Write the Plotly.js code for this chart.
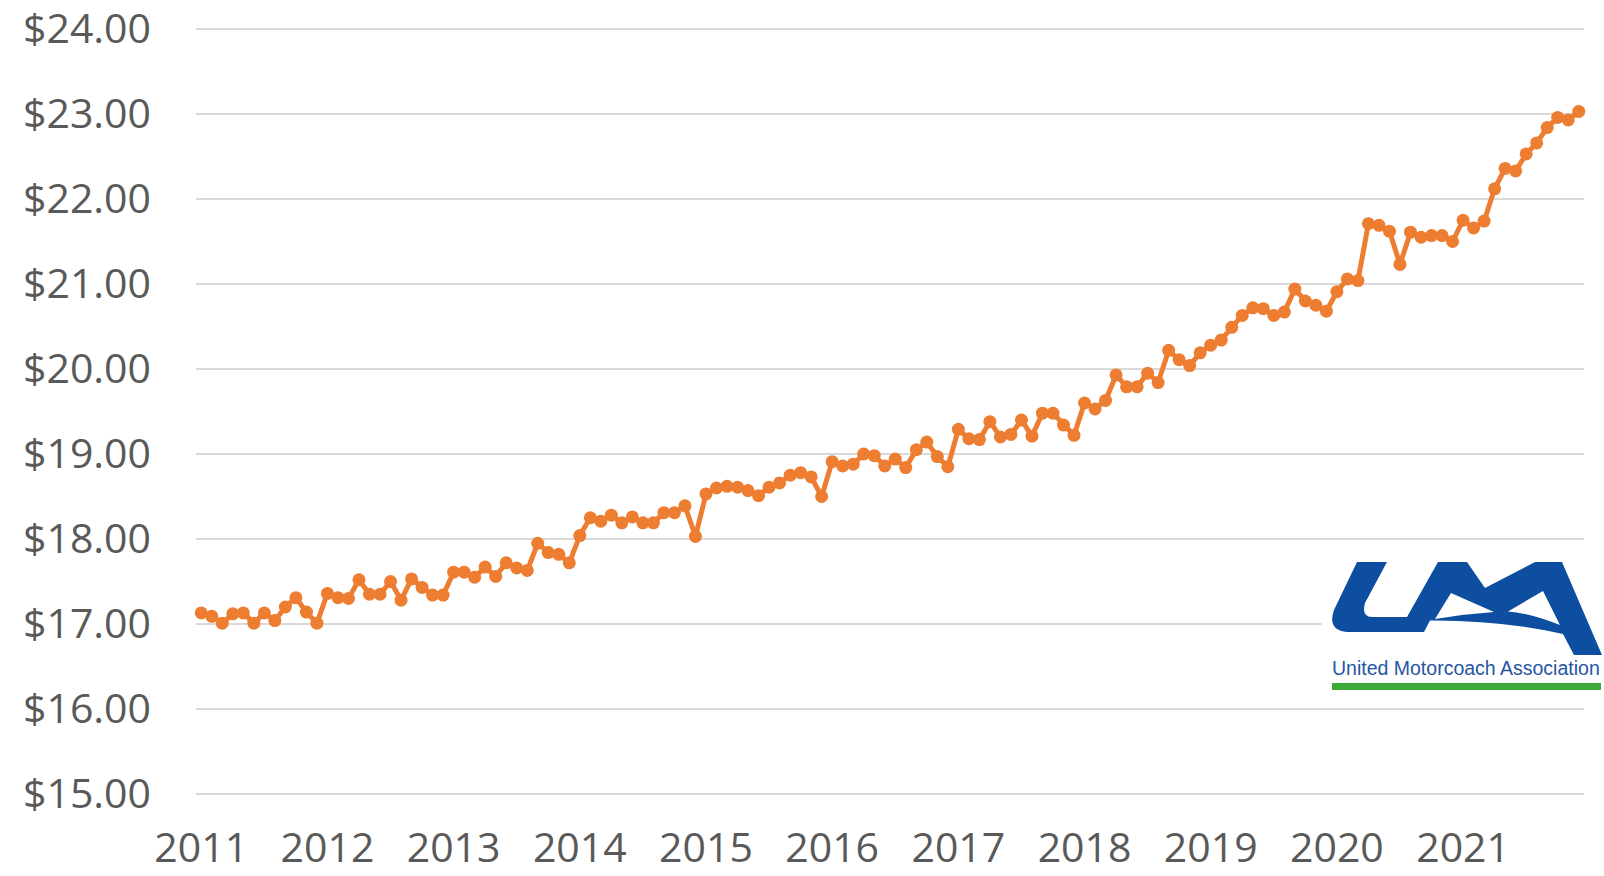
<!DOCTYPE html>
<html>
<head>
<meta charset="utf-8">
<script src="https://cdn.plot.ly/plotly-3.0.1.min.js"></script>
<style>
  html, body { margin: 0; padding: 0; background: #ffffff; }
  #chart { width: 1604px; height: 876px; }
</style>
</head>
<body>
<div id="chart"></div>
<script>
// ---- Data (average hourly wage, monthly, Jan 2011 – Dec 2021) ----
const years = ['2011','2012','2013','2014','2015','2016','2017','2018','2019','2020','2021'];
const y2011 = [17.13, 17.09, 17.01, 17.12, 17.13, 17.01, 17.13, 17.04, 17.20, 17.31, 17.14, 17.01];
const y2012 = [17.36, 17.31, 17.30, 17.52, 17.35, 17.35, 17.50, 17.28, 17.53, 17.43, 17.34, 17.34];
const y2013 = [17.61, 17.61, 17.55, 17.67, 17.56, 17.72, 17.66, 17.63, 17.95, 17.84, 17.82, 17.72];
const y2014 = [18.04, 18.25, 18.21, 18.28, 18.19, 18.26, 18.19, 18.19, 18.31, 18.31, 18.39, 18.03];
const y2015 = [18.53, 18.60, 18.62, 18.61, 18.57, 18.51, 18.61, 18.66, 18.75, 18.78, 18.73, 18.50];
const y2016 = [18.91, 18.86, 18.88, 19.00, 18.98, 18.86, 18.94, 18.84, 19.05, 19.14, 18.97, 18.85];
const y2017 = [19.29, 19.18, 19.17, 19.38, 19.20, 19.23, 19.40, 19.21, 19.48, 19.48, 19.34, 19.22];
const y2018 = [19.60, 19.53, 19.63, 19.93, 19.79, 19.79, 19.95, 19.84, 20.22, 20.11, 20.04, 20.19];
const y2019 = [20.28, 20.34, 20.49, 20.63, 20.72, 20.71, 20.63, 20.67, 20.94, 20.80, 20.75, 20.68];
const y2020 = [20.91, 21.06, 21.04, 21.71, 21.69, 21.62, 21.23, 21.61, 21.55, 21.57, 21.57, 21.50];
const y2021 = [21.75, 21.66, 21.74, 22.12, 22.36, 22.33, 22.53, 22.66, 22.84, 22.96, 22.93, 23.03];
const yTicks = [15, 16, 17, 18, 19, 20, 21, 22, 23, 24];
const logoText = 'United Motorcoach Association';

const wages = [].concat(y2011, y2012, y2013, y2014, y2015, y2016, y2017, y2018, y2019, y2020, y2021);
const idx = wages.map((_, i) => i);

const orange = '#ED7D31';
const trace = {
  x: idx, y: wages, type: 'scatter', mode: 'lines+markers',
  line: { color: orange, width: 5 },
  marker: { color: orange, size: 13 },
  hoverinfo: 'skip', cliponaxis: false
};

// ---- layout geometry (pixels) ----
// plot area is padded 4px beyond the $15 / $24 gridlines so Plotly keeps both edge gridlines
const L = 196, R = 1584, T = 25, B = 798;
const pad = 4 / 85;
const px = x => (x - L) / (R - L);
const py = y => (B - y) / (B - T);
const P = (x, y) => px(x).toFixed(5) + ',' + py(y).toFixed(5);

const blue = '#0D4EA0';
const logoBody = 'M' + P(1357,562) + ' L' + P(1387,562) + ' L' + P(1365,603) +
  ' Q' + P(1361,617) + ' ' + P(1373,617) + ' L' + P(1407,617) + ' L' + P(1438,562) +
  ' L' + P(1467,562) + ' L' + P(1485,588) + ' L' + P(1535,562) + ' L' + P(1562,562) +
  ' L' + P(1602,655) + ' L' + P(1574,655) + ' L' + P(1563,634) +
  ' Q' + P(1500,620) + ' ' + P(1430,620.5) + ' L' + P(1424,632) + ' L' + P(1347,632) +
  ' Q' + P(1327,630) + ' ' + P(1334,610) + ' Z';
const notchM = 'M' + P(1451,593) + ' L' + P(1494,612) + ' Q' + P(1465,614) + ' ' + P(1435,619) + ' Z';
const holeA = 'M' + P(1543,591) + ' L' + P(1560,625) + ' Q' + P(1530,613) + ' ' + P(1508,611.5) + ' Z';

const shapes = [
  { type: 'rect', xref: 'paper', yref: 'paper', x0: px(1322), x1: px(1604), y0: py(700), y1: py(545),
    fillcolor: '#ffffff', line: { width: 0 }, layer: 'above' },
  { type: 'path', xref: 'paper', yref: 'paper', path: logoBody, fillcolor: blue, line: { width: 0 }, layer: 'above' },
  { type: 'path', xref: 'paper', yref: 'paper', path: notchM, fillcolor: '#ffffff', line: { width: 0 }, layer: 'above' },
  { type: 'path', xref: 'paper', yref: 'paper', path: holeA, fillcolor: '#ffffff', line: { width: 0 }, layer: 'above' },
  { type: 'rect', xref: 'paper', yref: 'paper', x0: px(1332), x1: px(1601), y0: py(690), y1: py(683),
    fillcolor: '#3FA93A', line: { width: 0 }, layer: 'above' }
];

const annotations = [
  { xref: 'paper', yref: 'paper', x: px(1466), y: py(668), xanchor: 'center', yanchor: 'middle',
    text: logoText, showarrow: false,
    font: { family: 'Liberation Sans, Arial, sans-serif', size: 19.5, color: '#2556A3' } }
];

const tickFont = { family: 'Open Sans, Noto Sans, sans-serif', size: 41, color: '#595959' };

const layout = {
  width: 1604, height: 876,
  margin: { l: L, r: 1604 - R, t: T, b: 876 - B, pad: 0 },
  paper_bgcolor: '#ffffff', plot_bgcolor: '#ffffff',
  showlegend: false,
  xaxis: {
    range: [-0.5, wages.length - 0.5],
    tickvals: years.map((_, i) => i * 12),
    ticktext: years,
    showgrid: false, zeroline: false, showline: false, ticks: '',
    ticklabelstandoff: 22,
    ticklabeloverflow: 'allow',
    tickfont: tickFont, fixedrange: true
  },
  yaxis: {
    range: [15 - pad, 24 + pad],
    tickvals: yTicks,
    ticktext: yTicks.map(v => '$' + v.toFixed(2)),
    showgrid: true, gridcolor: '#D9D9D9', gridwidth: 2,
    zeroline: false, showline: false, ticks: '',
    ticklabelstandoff: 44,
    ticklabeloverflow: 'allow',
    tickfont: tickFont, fixedrange: true
  },
  shapes: shapes,
  annotations: annotations,
  hovermode: false
};

Plotly.newPlot('chart', [trace], layout, { displayModeBar: false, staticPlot: true });
</script>
</body>
</html>
